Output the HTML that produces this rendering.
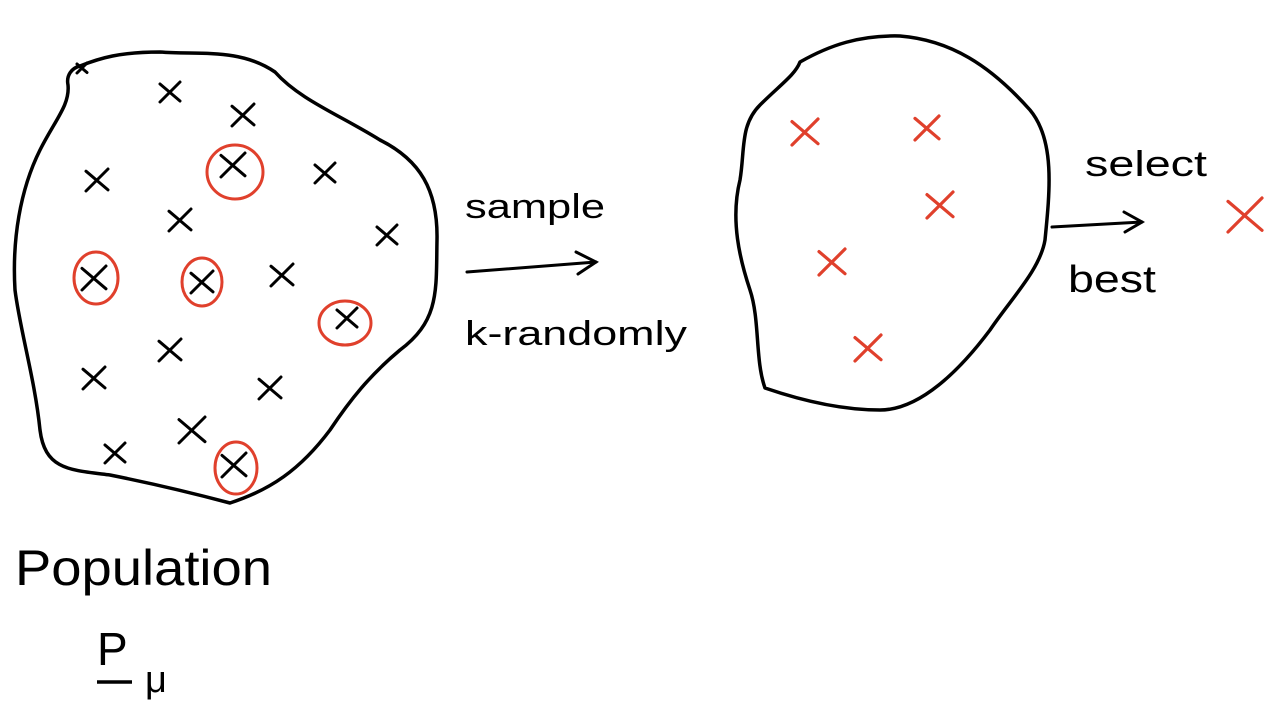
<!DOCTYPE html>
<html><head><meta charset="utf-8"><style>
html,body{margin:0;padding:0;background:#fff;width:1280px;height:722px;overflow:hidden}
svg{display:block}
text{font-family:"Liberation Sans",sans-serif;fill:#000}
</style></head><body>
<svg id="s" width="1280" height="722" viewBox="0 0 1280 722">
<path fill="none" stroke="#000" stroke-width="3.5" stroke-linejoin="round"
 d="M80,66 C100,58 120,52 160,52 C200,55 240,48 275,72 C300,100 340,115 380,140 C420,160 438,190 437,240 C436,290 440,320 400,350 C370,375 350,400 330,430 C300,470 270,490 230,503 C200,495 160,485 110,475 C70,470 45,470 40,430 C35,380 20,330 15,290 C12,240 20,190 40,150 C55,120 70,105 68,85 C66,75 72,68 80,66 Z"/>
<path fill="none" stroke="#000" stroke-width="3.5" stroke-linejoin="round"
 d="M800,62 C830,45 860,35 900,36 C950,40 990,65 1030,110 C1055,140 1050,190 1045,240 C1040,270 1010,300 990,330 C960,370 920,410 880,410 C840,410 800,400 765,388 C755,360 760,320 750,290 C740,260 730,220 740,180 C745,150 740,125 760,105 C780,85 795,75 800,62 Z"/>
<g id="marks"></g>
<text x="465" y="218" font-size="34" textLength="140" lengthAdjust="spacingAndGlyphs">sample</text>
<g stroke="#000" stroke-width="3" fill="none" stroke-linecap="round">
<path d="M467,272 L596,262"/><path d="M576,252 L596,262 L578,274"/></g>
<text x="465" y="345" font-size="34" textLength="222" lengthAdjust="spacingAndGlyphs">k-randomly</text>
<text x="1085" y="176" font-size="36" textLength="122" lengthAdjust="spacingAndGlyphs">select</text>
<g stroke="#000" stroke-width="3" fill="none" stroke-linecap="round">
<path d="M1052,227 L1142,222"/><path d="M1124,212 L1142,222 L1125,232"/></g>
<text x="1068" y="292" font-size="38" textLength="88" lengthAdjust="spacingAndGlyphs">best</text>
<text x="15" y="585" font-size="50" textLength="257" lengthAdjust="spacingAndGlyphs">Population</text>
<text x="97" y="665" font-size="46">P</text>
<line x1="97" y1="682" x2="132" y2="682" stroke="#000" stroke-width="3.5"/>
<text x="145" y="692" font-size="38">μ</text>
</svg>
<script>
const blackX = [[82,68,5],[170,92,10],[243,115,11],[97,180,11],[233,165,12],[325,173,10],[180,220,11],[387,235,10],[94,278,12],[202,282,11],[282,275,11],[347,318,10],[170,350,11],[94,378,11],[270,388,11],[192,430,13],[115,453,10],[234,465,12]];
const circles = [[235,172,28,27],[96,278,22,26],[202,282,20,24],[345,323,26,22],[236,468,21,26]];
const redX = [[805,132,13],[927,128,12],[940,205,13],[832,262,13],[868,348,13],[1245,215,17]];
const ns = 'http://www.w3.org/2000/svg';
const g = document.getElementById('marks');
function xMark(x,y,r,color,name){
  const p = document.createElementNS(ns,'path');
  p.setAttribute('d',`M${x-r},${y+r} L${x+r},${y-r} M${x-r},${y-r*0.8} L${x+r},${y+r*0.9}`);
  p.setAttribute('stroke',color);p.setAttribute('stroke-width',color==='#000'?3:3.2);
  p.setAttribute('fill','none');p.setAttribute('stroke-linecap','round');
  
  
  g.appendChild(p);
}
blackX.forEach(d=>xMark(d[0],d[1],d[2],'#000','population-point'));
circles.forEach(d=>{
  const e = document.createElementNS(ns,'ellipse');
  e.setAttribute('cx',d[0]);e.setAttribute('cy',d[1]);e.setAttribute('rx',d[2]);e.setAttribute('ry',d[3]);
  e.setAttribute('fill','none');e.setAttribute('stroke','#e0402c');e.setAttribute('stroke-width',3);
  
  
  g.appendChild(e);
});
redX.forEach((d,i)=>xMark(d[0],d[1],d[2],'#e0402c',i===redX.length-1?'best-point':'sample-point'));
</script>
</body></html>
